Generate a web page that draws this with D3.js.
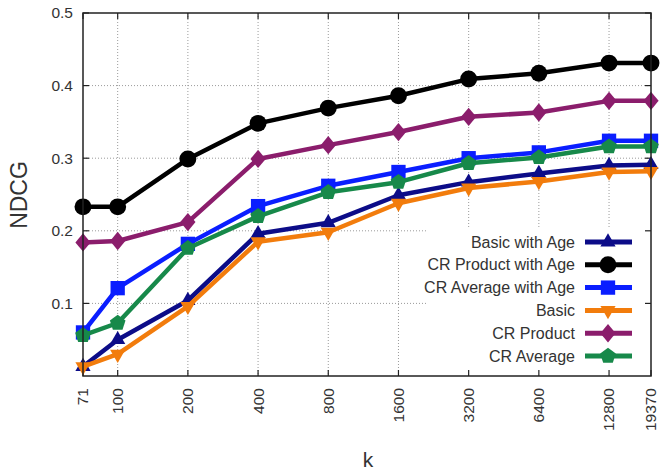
<!DOCTYPE html>
<html>
<head>
<meta charset="utf-8">
<script src="https://cdn.jsdelivr.net/npm/d3@7"></script>
<style>
  body { margin: 0; background: #fff; }
  svg { display: block; font-family: "Liberation Sans", Arial, sans-serif; }
</style>
</head>
<body>
<svg id="chart" width="660" height="474"></svg>
<script>
// k values (log x axis) and tick labels
var kValues = [71, 100, 200, 400, 800, 1600, 3200, 6400, 12800, 19370];
var yTicks = [0.1, 0.2, 0.3, 0.4, 0.5];

// NDCG per series
var basicWithAge = [0.013, 0.050, 0.104, 0.196, 0.211, 0.249, 0.267, 0.279, 0.290, 0.291];
var crProductWithAge = [0.233, 0.233, 0.299, 0.348, 0.369, 0.386, 0.409, 0.417, 0.431, 0.431];
var crAverageWithAge = [0.060, 0.121, 0.182, 0.234, 0.262, 0.281, 0.300, 0.308, 0.324, 0.324];
var basic = [0.013, 0.030, 0.096, 0.185, 0.198, 0.238, 0.259, 0.268, 0.281, 0.282];
var crProduct = [0.184, 0.186, 0.212, 0.299, 0.318, 0.336, 0.357, 0.363, 0.379, 0.379];
var crAverage = [0.056, 0.073, 0.176, 0.220, 0.253, 0.267, 0.293, 0.301, 0.316, 0.316];

var seriesNames = ['Basic with Age', 'CR Product with Age', 'CR Average with Age', 'Basic', 'CR Product', 'CR Average'];

// pentagon marker, d3 has none
var symbolPentagon = {
    draw: function (context, size) {
        var r = Math.sqrt(size / 2.378);
        for (var i = 0; i < 5; ++i) {
            var a = -Math.PI / 2 + i * 2 * Math.PI / 5;
            if (i === 0) context.moveTo(r * Math.cos(a), r * Math.sin(a));
            else context.lineTo(r * Math.cos(a), r * Math.sin(a));
        }
        context.closePath();
    }
};

// gnuplot-like diamond, a bit wider than d3's
var symbolWideDiamond = {
    draw: function (context, size) {
        var h = Math.sqrt(size / (2 * 0.83));
        var w = h * 0.83;
        context.moveTo(0, -h);
        context.lineTo(w, 0);
        context.lineTo(0, h);
        context.lineTo(-w, 0);
        context.closePath();
    }
};

var series = [
    {name: seriesNames[0], values: basicWithAge, color: '#0c0c88', symbol: d3.symbolTriangle, size: 100, rot: 0},
    {name: seriesNames[1], values: crProductWithAge, color: '#000000', symbol: d3.symbolCircle, size: 225, rot: 0},
    {name: seriesNames[2], values: crAverageWithAge, color: '#0a1eff', symbol: d3.symbolSquare, size: 205, rot: 0},
    {name: seriesNames[3], values: basic, color: '#f27c0c', symbol: d3.symbolTriangle, size: 100, rot: 180},
    {name: seriesNames[4], values: crProduct, color: '#8b1d6c', symbol: symbolWideDiamond, size: 140, rot: 0},
    {name: seriesNames[5], values: crAverage, color: '#17894a', symbol: symbolPentagon, size: 160, rot: 0}
];

var svg = d3.select('#chart');
var plotLeft = 83, plotRight = 651, plotTop = 13, plotBottom = 376;

var x = d3.scaleLog().domain([71, 19370]).range([plotLeft, plotRight]);
var y = d3.scaleLinear().domain([0, 0.5]).range([plotBottom, plotTop]);

// grid
var grid = svg.append('g')
    .attr('stroke', '#9a9a9a')
    .attr('stroke-width', 1)
    .attr('stroke-dasharray', '1,2');
grid.selectAll('line.gx')
    .data(kValues.slice(1, -1))
    .enter()
    .append('line')
    .attr('x1', function (d) { return x(d); })
    .attr('x2', function (d) { return x(d); })
    .attr('y1', plotTop)
    .attr('y2', plotBottom);
grid.selectAll('line.gy')
    .data(yTicks.slice(0, -1))
    .enter()
    .append('line')
    .attr('x1', plotLeft)
    .attr('x2', plotRight)
    .attr('y1', function (d) { return y(d); })
    .attr('y2', function (d) { return y(d); });

// legend background hides the grid behind it
svg.append('rect')
    .attr('x', 427)
    .attr('y', 229)
    .attr('width', plotRight - 427)
    .attr('height', plotBottom - 229)
    .attr('fill', '#fff');

// tick marks, inward and mirrored
var ticks = svg.append('g').attr('stroke', '#222').attr('stroke-width', 1.2);
kValues.forEach(function (k) {
    ticks.append('line').attr('x1', x(k)).attr('x2', x(k)).attr('y1', plotBottom).attr('y2', plotBottom - 6);
    ticks.append('line').attr('x1', x(k)).attr('x2', x(k)).attr('y1', plotTop).attr('y2', plotTop + 6);
});
yTicks.forEach(function (v) {
    ticks.append('line').attr('x1', plotLeft).attr('x2', plotLeft + 6).attr('y1', y(v)).attr('y2', y(v));
    ticks.append('line').attr('x1', plotRight).attr('x2', plotRight - 6).attr('y1', y(v)).attr('y2', y(v));
});

// series
var line = d3.line()
    .x(function (d) { return x(d.k); })
    .y(function (d) { return y(d.v); });

series.forEach(function (s) {
    var pts = kValues.map(function (k, i) { return {k: k, v: s.values[i]}; });
    var g = svg.append('g');
    g.append('path')
        .datum(pts)
        .attr('d', line)
        .attr('fill', 'none')
        .attr('stroke', s.color)
        .attr('stroke-width', 4.5)
        .attr('stroke-linejoin', 'round');
    g.selectAll('path.pt')
        .data(pts)
        .enter()
        .append('path')
        .attr('class', 'pt')
        .attr('d', d3.symbol().type(s.symbol).size(s.size))
        .attr('fill', s.color)
        .attr('transform', function (d) {
            return 'translate(' + x(d.k) + ',' + y(d.v) + ') rotate(' + s.rot + ')';
        });
});

// frame
svg.append('rect')
    .attr('x', plotLeft)
    .attr('y', plotTop)
    .attr('width', plotRight - plotLeft)
    .attr('height', plotBottom - plotTop)
    .attr('fill', 'none')
    .attr('stroke', '#222')
    .attr('stroke-width', 1.5);

// y tick labels
svg.selectAll('text.ytick')
    .data(yTicks)
    .enter()
    .append('text')
    .attr('x', plotLeft - 10)
    .attr('y', function (d) { return y(d); })
    .attr('dy', '0.35em')
    .attr('text-anchor', 'end')
    .attr('font-size', 15.5)
    .attr('fill', '#333')
    .text(function (d) { return d.toFixed(1); });

// x tick labels, rotated
svg.selectAll('text.xtick')
    .data(kValues)
    .enter()
    .append('text')
    .attr('transform', function (d) {
        return 'translate(' + x(d) + ',' + (plotBottom + 12) + ') rotate(-90)';
    })
    .attr('dy', '0.35em')
    .attr('text-anchor', 'end')
    .attr('font-size', 15.5)
    .attr('fill', '#333')
    .text(function (d) { return d; });

// axis titles
svg.append('text')
    .attr('transform', 'translate(27,195) rotate(-90)')
    .attr('text-anchor', 'middle')
    .attr('font-size', 23)
    .attr('fill', '#333')
    .text('NDCG');
svg.append('text')
    .attr('x', 368)
    .attr('y', 467)
    .attr('text-anchor', 'middle')
    .attr('font-size', 21)
    .attr('fill', '#333')
    .text('k');

// legend
var legend = svg.append('g');
series.forEach(function (s, i) {
    var ly = 242 + i * 22.8;
    legend.append('text')
        .attr('x', 575)
        .attr('y', ly)
        .attr('dy', '0.35em')
        .attr('text-anchor', 'end')
        .attr('font-size', 16)
        .attr('fill', '#333')
        .text(s.name);
    legend.append('line')
        .attr('x1', 585)
        .attr('x2', 632)
        .attr('y1', ly)
        .attr('y2', ly)
        .attr('stroke', s.color)
        .attr('stroke-width', 5);
    legend.append('path')
        .attr('d', d3.symbol().type(s.symbol).size(s.size))
        .attr('fill', s.color)
        .attr('transform', 'translate(608,' + ly + ') rotate(' + s.rot + ')');
});
</script>
</body>
</html>
